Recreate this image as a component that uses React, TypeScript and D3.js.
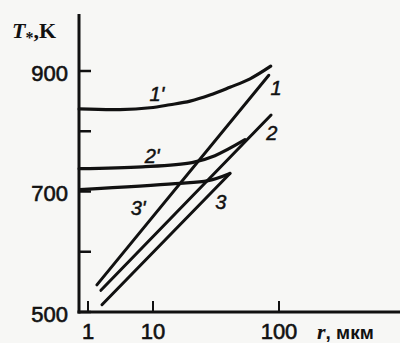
import React from "react";
import { scaleLog, scaleLinear, line, curveCatmullRom } from "d3";

// axis ticks
const rTicks = [1, 10, 100];
const tTicks = [500, 600, 700, 800, 900];
const tLabels = [500, 700, 900];

// straight lines 1, 2, 3 (r in мкм, T in K)
const line1R = [1.37, 83];
const line1T = [545, 893];
const line2R = [1.58, 86.5];
const line2T = [536, 827];
const line3R = [1.64, 40.8];
const line3T = [512, 730];

// curves 1', 2', 3'
const curve1R = [0.73, 3.1, 9, 13.6, 19.7, 28.3, 40.8, 58.9, 86];
const curve1T = [837, 836, 839, 844, 850, 860, 873, 887, 908];
const curve2R = [0.73, 6.8, 20.4, 31, 53.7];
const curve2T = [738, 741, 748, 759.5, 786];
const curve3R = [0.75, 15, 27.4, 40.8];
const curve3T = [703, 713, 718, 730];

// curve labels
const labelText = ["1'", "2'", "3'", "1", "2", "3"];
const labelR = [10.75, 9.7, 5.9, 94.6, 87.8, 34.6];
const labelT = [862, 759.5, 672, 872, 797.5, 682];

const W = 400;
const H = 343;
const ink = "#111";

export default function App() {
  // x: log axis as printed (the 1–10 decade is narrower than 10–100)
  const x = scaleLog().domain([1, 10, 100]).range([88, 153, 279]);
  const y = scaleLinear().domain([500, 900]).range([312, 71]);

  const path = line<[number, number]>()
    .x((d) => x(d[0]))
    .y((d) => y(d[1]));
  const smooth = line<[number, number]>()
    .x((d) => x(d[0]))
    .y((d) => y(d[1]))
    .curve(curveCatmullRom.alpha(0.5));

  const zip = (a: number[], b: number[]) =>
    a.map((v, i) => [v, b[i]] as [number, number]);

  const straight = [zip(line1R, line1T), zip(line2R, line2T), zip(line3R, line3T)];
  const curves = [zip(curve1R, curve1T), zip(curve2R, curve2T), zip(curve3R, curve3T)];

  const x0 = 79;
  const y0 = y(500);

  return (
    <svg
      width={W}
      height={H}
      style={{ position: "absolute", left: 0, top: 0, background: "#f7f7f5" }}
      fontFamily="'Liberation Sans', Arial, sans-serif">
      {/* axes */}
      <line x1={x0} y1={14} x2={x0} y2={y0 + 1.5} stroke={ink} strokeWidth={3} />
      <line x1={x0 - 1.5} y1={y0} x2={W} y2={y0} stroke={ink} strokeWidth={3} />

      {/* y ticks */}
      {tTicks.map((t) => (
        <line key={t} x1={x0} x2={x0 + 12} y1={y(t)} y2={y(t)} stroke={ink} strokeWidth={2.5} />
      ))}
      {tLabels.map((t) => (
        <text key={t} x={68} y={y(t) + 2} textAnchor="end" dominantBaseline="central" fontSize={22} fill={ink} stroke={ink} strokeWidth={0.6}>
          {t}
        </text>
      ))}

      {/* x ticks */}
      {rTicks.map((r) => (
        <line key={r} x1={x(r)} x2={x(r)} y1={y0} y2={y0 - 11} stroke={ink} strokeWidth={2} />
      ))}
      {rTicks.map((r) => (
        <text key={r} x={x(r)} y={339} textAnchor="middle" fontSize={22} fill={ink} stroke={ink} strokeWidth={0.6}>
          {r}
        </text>
      ))}

      {/* axis titles */}
      <text x={12} y={38} fontFamily="'Liberation Serif', 'DejaVu Serif', serif" fontSize={22} fontWeight="bold" fill={ink}>
        <tspan fontStyle="italic">T</tspan>
        <tspan fontSize={16} dy={5}>*</tspan>
        <tspan dy={-5}>,K</tspan>
      </text>
      <text x={317} y={339} fontSize={19} fontWeight="bold" fill={ink}>
        <tspan fontFamily="'Liberation Serif', serif" fontStyle="italic" fontSize={22}>r</tspan>
        <tspan>, мкм</tspan>
      </text>

      {/* lines */}
      {straight.map((d, i) => (
        <path key={"s" + i} d={path(d) ?? ""} fill="none" stroke={ink} strokeWidth={3} strokeLinecap="round" />
      ))}
      {curves.map((d, i) => (
        <path key={"c" + i} d={smooth(d) ?? ""} fill="none" stroke={ink} strokeWidth={3.2} strokeLinecap="round" />
      ))}

      {/* curve labels */}
      {labelText.map((s, i) => (
        <text
          key={s}
          x={x(labelR[i])}
          y={y(labelT[i])}
          textAnchor="middle"
          dominantBaseline="central"
          fontSize={20}
          fontStyle="italic"
          fill={ink}
          stroke={ink}
          strokeWidth={0.5}>
          {s}
        </text>
      ))}
    </svg>
  );
}
